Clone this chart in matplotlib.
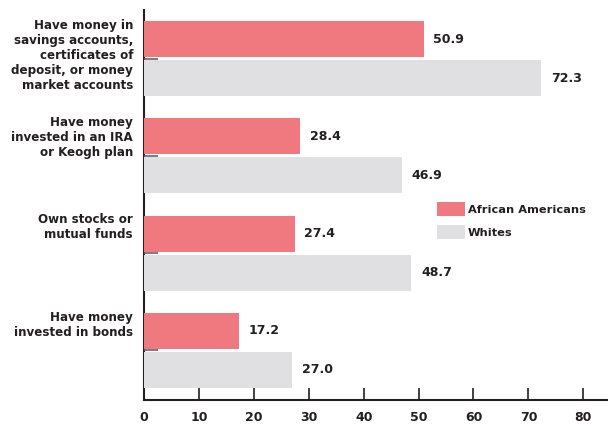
import numpy as np
import matplotlib.pyplot as plt
from matplotlib.patches import Patch

# 投资方式与两组人群的比例（%）
categories = [
    "Have money in\nsavings accounts,\ncertificates of\ndeposit, or money\nmarket accounts",
    "Have money\ninvested in an IRA\nor Keogh plan",
    "Own stocks or\nmutual funds",
    "Have money\ninvested in bonds",
]
african_americans = [50.9, 28.4, 27.4, 17.2]
whites = [72.3, 46.9, 48.7, 27.0]
series_names = ["African Americans", "Whites"]

pink = "#f0787f"
grey = "#e0e0e2"
ink = "#231f20"

plt.rcParams['font.family'] = ['DejaVu Sans']
plt.rcParams['font.weight'] = 'bold'

fig = plt.figure(figsize=(6.08, 4.30), dpi=100)
ax = fig.add_axes([0.237, 0.0698, 0.763, 0.907])

y = np.arange(len(categories))
h = 0.37
ax.barh(y - 0.2, african_americans, height=h, color=pink, zorder=3)
ax.barh(y + 0.2, whites, height=h, color=grey, zorder=3)

# 数值标签
for yi, v in zip(y, african_americans):
    ax.text(v + 1.8, yi - 0.2, f"{v:.1f}", va='center', ha='left',
            fontsize=9, fontweight='bold', color=ink)
for yi, v in zip(y, whites):
    ax.text(v + 1.8, yi + 0.2, f"{v:.1f}", va='center', ha='left',
            fontsize=9, fontweight='bold', color=ink)

# 左侧分类标签
for yi, lab in zip(y, categories):
    ax.text(-2.0, yi - 0.41, lab, va='top', ha='right', fontsize=8.6,
            fontweight='bold', color=ink, linespacing=1.2)

ax.set_xlim(0, 84.5)
ax.set_ylim(3.51, -0.5)
ax.set_xticks(np.arange(0, 81, 10))
ax.set_yticks(y)
ax.set_yticklabels([])

ax.tick_params(axis='x', direction='in', length=9, width=1.2, color=ink,
               pad=8, labelsize=9, labelcolor=ink)
ax.tick_params(axis='y', direction='in', length=10, width=1.2, color='#666666')
for lab in ax.get_xticklabels():
    lab.set_fontweight('bold')

for s in ['top', 'right']:
    ax.spines[s].set_visible(False)
ax.spines['bottom'].set_linewidth(1.5)
ax.spines['bottom'].set_color(ink)
ax.spines['left'].set_linewidth(1.5)
ax.spines['left'].set_color(ink)
ax.spines['left'].set_zorder(1)

handles = [Patch(facecolor=pink), Patch(facecolor=grey)]
leg = ax.legend(handles, series_names, loc='upper left',
                bbox_to_anchor=(0.61, 0.535), frameon=False,
                handlelength=2.4, handleheight=1.6, handletextpad=0.3,
                labelspacing=0.75, prop={'weight': 'bold', 'size': 8.2})
for t in leg.get_texts():
    t.set_color(ink)

fig.savefig("out.png", dpi=100)
